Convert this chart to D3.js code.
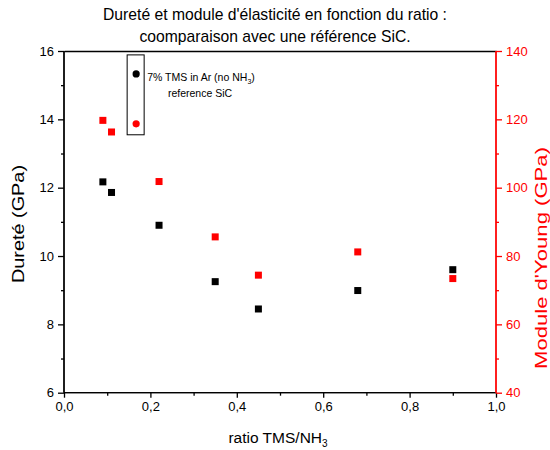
<!DOCTYPE html>
<html><head><meta charset="utf-8">
<script src="https://cdn.jsdelivr.net/npm/d3@7"></script>
<style>body{margin:0;background:#fff;} svg{display:block;font-family:"Liberation Sans",Arial,sans-serif;}</style>
</head><body>
<svg id="c" width="550" height="450"></svg>
<script>
const ratio = [0.09, 0.11, 0.22, 0.35, 0.45, 0.68, 0.90];
const durete = [12.17, 11.86, 10.9, 9.25, 8.45, 8.99, 9.6];
const young = [119.7, 116.3, 101.8, 85.6, 74.4, 81.2, 73.4];
const refRatio = [0.167];
const refDurete = [15.33];
const refYoung = [118.7];
const xTicks = [0, 0.2, 0.4, 0.6, 0.8, 1.0];
const yLeftTicks = [6, 8, 10, 12, 14, 16];
const yRightTicks = [40, 60, 80, 100, 120, 140];
const titleLines = ["Dureté et module d'élasticité en fonction du ratio :", "coomparaison avec une référence SiC."];

const RED = "#ff0000";
const svg = d3.select("#c");
const L = 64, R = 496, T = 51, B = 392.7;
const x = d3.scaleLinear().domain([0, 1]).range([L, R]);
const yL = d3.scaleLinear().domain([6, 16]).range([B, T]);
const yR = d3.scaleLinear().domain([40, 140]).range([B, T]);
const fmt = d => d3.format(".1f")(d).replace(".", ",");

// title
svg.append("g").selectAll("text").data(titleLines).join("text")
  .attr("x", 275).attr("y", (d, i) => 20 + i * 21.5)
  .attr("text-anchor", "middle").attr("font-size", 15.7).attr("fill", "#000").text(d => d);

// bottom axis
const gx = svg.append("g").attr("transform", `translate(0,${B})`)
  .call(d3.axisBottom(x).tickValues(xTicks).tickFormat(fmt).tickSize(5).tickPadding(4));
gx.append("g").call(d3.axisBottom(x).tickValues(d3.range(0.1, 1, 0.2)).tickSize(3).tickFormat(""));
// top axis
const gt = svg.append("g").attr("transform", `translate(0,${T})`)
  .call(d3.axisTop(x).tickValues([]).tickSizeOuter(0));
// left axis
const gl = svg.append("g").attr("transform", `translate(${L},0)`)
  .call(d3.axisLeft(yL).tickValues(yLeftTicks).tickSize(6).tickPadding(4));
gl.append("g").call(d3.axisLeft(yL).tickValues(d3.range(7, 16, 2)).tickSize(3).tickFormat(""));
// right axis
const gr = svg.append("g").attr("transform", `translate(${R},0)`)
  .call(d3.axisRight(yR).tickValues(yRightTicks).tickSize(6).tickPadding(4));
gr.append("g").call(d3.axisRight(yR).tickValues(d3.range(50, 140, 20)).tickSize(3).tickFormat(""));

[gx, gt, gl, gr].forEach(g => {
  g.selectAll(".domain").attr("stroke", "#000").attr("stroke-width", 1.3);
  g.selectAll("line").attr("stroke", "#000").attr("stroke-width", 1.3);
  g.selectAll("text").attr("font-size", 13).attr("fill", "#000").attr("font-family", '"Liberation Sans",Arial,sans-serif');
});
gx.selectAll(".domain").attr("d", `M${L},0H${R}`);
gl.selectAll(".domain").attr("d", `M0,${T}V${B}`);
gr.selectAll(".domain").attr("d", `M0,${T}V${B}`);
gr.selectAll(".domain, line").attr("stroke", RED);
gr.selectAll("text").attr("fill", RED);

// axis titles
svg.append("text").attr("transform", `translate(24,224) rotate(-90)`)
  .attr("text-anchor", "middle").attr("font-size", 17)
  .attr("textLength", 118).attr("lengthAdjust", "spacingAndGlyphs").text("Dureté (GPa)");
svg.append("text").attr("transform", `translate(547,258) rotate(-90)`)
  .attr("text-anchor", "middle").attr("font-size", 17).attr("fill", RED)
  .attr("textLength", 222).attr("lengthAdjust", "spacingAndGlyphs").text("Module d'Young (GPa)");
const xl = svg.append("text").attr("x", 278).attr("y", 443).attr("text-anchor", "middle").attr("font-size", 15.5);
xl.append("tspan").text("ratio TMS/NH");
xl.append("tspan").attr("font-size", 10).attr("dy", 4).text("3");

// data
const S = 7;
svg.append("g").selectAll("rect").data(ratio).join("rect")
  .attr("x", (d) => x(d) - S / 2).attr("y", (d, i) => yL(durete[i]) - S / 2)
  .attr("width", S).attr("height", S).attr("fill", "#000");
svg.append("g").selectAll("rect").data(ratio).join("rect")
  .attr("x", (d) => x(d) - S / 2).attr("y", (d, i) => yR(young[i]) - S / 2)
  .attr("width", S).attr("height", S).attr("fill", RED);

// reference SiC
const bx = x(refRatio[0]);
svg.append("rect").attr("x", bx - 9).attr("y", yL(refDurete[0]) - 19)
  .attr("width", 17).attr("height", yR(refYoung[0]) - yL(refDurete[0]) + 30)
  .attr("fill", "none").attr("stroke", "#000").attr("stroke-width", 1);
svg.append("g").selectAll("circle").data(refRatio).join("circle")
  .attr("cx", d => x(d)).attr("cy", (d, i) => yL(refDurete[i])).attr("r", 3.6).attr("fill", "#000");
svg.append("g").selectAll("circle").data(refRatio).join("circle")
  .attr("cx", d => x(d)).attr("cy", (d, i) => yR(refYoung[i])).attr("r", 3.6).attr("fill", RED);
const lt = svg.append("text").attr("x", 201).attr("y", 81).attr("text-anchor", "middle").attr("font-size", 10.5);
lt.append("tspan").text("7% TMS in Ar (no NH");
lt.append("tspan").attr("font-size", 7).attr("dy", 3).text("3");
lt.append("tspan").attr("dy", -3).text(")");
svg.append("text").attr("x", 200).attr("y", 97).attr("text-anchor", "middle").attr("font-size", 10.5).text("reference SiC");
</script>
</body></html>
